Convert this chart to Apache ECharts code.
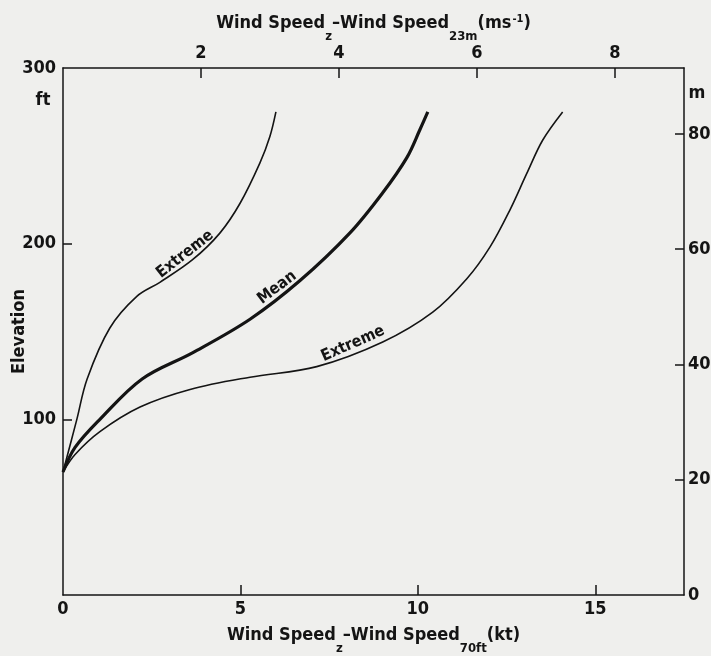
<!DOCTYPE html>
<html>
<head>
<meta charset="utf-8">
<script src="https://cdn.jsdelivr.net/npm/echarts@6/dist/echarts.min.js"></script>
<style>
html,body{margin:0;padding:0;background:#efefed;}
#c{width:711px;height:656px;}
</style>
</head>
<body>
<div id="c"></div>
<script>
// ---- data (x: kt, y: ft) ----
const extremeLeftX  = [0, 0.39, 0.68, 1.32, 2.08, 2.73, 3.66, 4.42, 4.99, 5.55, 5.83, 6.0];
const extremeLeftY  = [70, 100, 123, 152, 170, 178, 191, 206, 223, 246, 261, 275];
const meanX         = [0, 0.34, 1.04, 2.23, 3.66, 5.27, 6.68, 8.08, 9.01, 9.69, 10.06, 10.28];
const meanY         = [70, 84, 100, 123, 138, 157, 179, 206, 229, 249, 265, 275];
const extremeRightX = [0, 0.34, 1.04, 2.17, 3.58, 5.27, 7.15, 9.01, 10.42, 11.38, 12.03, 12.59, 13.07, 13.52, 14.08];
const extremeRightY = [70, 80, 93, 107, 117, 124, 130, 144, 161, 180, 198, 219, 240, 259, 275];

const bottomTickLabels = [0, 5, 10, 15];
const topTickLabels = [2, 4, 6, 8];
const leftTickLabels = [100, 200, 300];
const rightTickLabels = [0, 20, 40, 60, 80];

const curveLabels = [
  {text: 'Extreme', x: 3.44, y: 194, angle: 38},
  {text: 'Mean', x: 6.03, y: 175, angle: 37},
  {text: 'Extreme', x: 8.17, y: 143, angle: 24}
];

const KT_MAX = 17.5;
const FT_MAX = 300;
const MS_PER_KT = 0.514444;
const M_PER_FT = 0.3048;

const FONT = '"DejaVu Sans Condensed", "Liberation Sans Narrow", sans-serif';
const INK = '#141414';

function pairs(xs, ys) { return xs.map((x, i) => [x, ys[i]]); }

const base = {fontFamily: FONT, fontWeight: 'bold', color: INK};
const rich = {
  a: Object.assign({fontSize: 18, lineHeight: 22, verticalAlign: 'top'}, base),
  s: Object.assign({fontSize: 13, lineHeight: 13, padding: [16, 0, 0, 0], verticalAlign: 'top'}, base),
  p: Object.assign({fontSize: 11, lineHeight: 11, padding: [0, 0, 0, 1], verticalAlign: 'top'}, base)
};

const axisLineStyle = {color: INK, width: 1.5};
const tickFont = {fontSize: 18, fontFamily: FONT, fontWeight: 'bold', color: INK};

const chart = echarts.init(document.getElementById('c'), null, {renderer: 'canvas'});
const option = {
  backgroundColor: '#efefed',
  animation: false,
  grid: {left: 63, right: 27, top: 68, bottom: 61, containLabel: false, outerBoundsMode: 'none'},
  xAxis: [
    {
      type: 'value', position: 'bottom', min: 0, max: KT_MAX,
      name: '{a|Wind Speed}{s|z}{a|–Wind Speed}{s|70ft}{a|(kt)}',
      nameLocation: 'middle', nameGap: 31, nameMoveOverlap: false,
      nameTextStyle: {rich: rich},
      axisLine: {show: true, onZero: false, lineStyle: axisLineStyle},
      axisTick: {show: true, inside: true, length: 10, lineStyle: axisLineStyle, customValues: [5, 10, 15]},
      axisLabel: Object.assign({show: true, margin: 5, customValues: bottomTickLabels}, tickFont),
      splitLine: {show: false}
    },
    {
      type: 'value', position: 'top', min: 0, max: KT_MAX * MS_PER_KT,
      name: '{a|Wind Speed}{s|z}{a|–Wind Speed}{s|23m}{a|(ms}{p|-1}{a|)}',
      nameLocation: 'middle', nameGap: 32, nameMoveOverlap: false,
      nameTextStyle: {rich: rich},
      axisLine: {show: true, onZero: false, lineStyle: axisLineStyle},
      axisTick: {show: true, inside: true, length: 10, lineStyle: axisLineStyle, customValues: topTickLabels},
      axisLabel: Object.assign({show: true, margin: 6, customValues: topTickLabels}, tickFont),
      splitLine: {show: false}
    }
  ],
  yAxis: [
    {
      type: 'value', position: 'left', min: 0, max: FT_MAX,
      name: 'Elevation', nameLocation: 'middle', nameGap: 35, nameRotate: 90, nameMoveOverlap: false,
      nameTextStyle: {fontSize: 18, fontFamily: FONT, fontWeight: 'bold', color: INK},
      axisLine: {show: true, onZero: false, lineStyle: axisLineStyle},
      axisTick: {show: true, inside: true, length: 9, lineStyle: axisLineStyle, customValues: [100, 200]},
      axisLabel: Object.assign({show: true, margin: 7, customValues: leftTickLabels}, tickFont),
      splitLine: {show: false}
    },
    {
      type: 'value', position: 'right', min: 0, max: FT_MAX * M_PER_FT,
      axisLine: {show: true, onZero: false, lineStyle: axisLineStyle},
      axisTick: {show: true, inside: true, length: 9, lineStyle: axisLineStyle, customValues: [20, 40, 60, 80]},
      axisLabel: Object.assign({show: true, margin: 4, customValues: rightTickLabels}, tickFont),
      splitLine: {show: false}
    }
  ],
  series: [
    {type: 'line', name: 'Extreme (left)', xAxisIndex: 0, yAxisIndex: 0, data: pairs(extremeLeftX, extremeLeftY),
     smooth: 0.35, showSymbol: false, lineStyle: {color: INK, width: 1.6}},
    {type: 'line', name: 'Mean', xAxisIndex: 0, yAxisIndex: 0, data: pairs(meanX, meanY),
     smooth: 0.35, showSymbol: false, lineStyle: {color: INK, width: 3.2}},
    {type: 'line', name: 'Extreme (right)', xAxisIndex: 0, yAxisIndex: 0, data: pairs(extremeRightX, extremeRightY),
     smooth: 0.35, showSymbol: false, lineStyle: {color: INK, width: 1.6}}
  ]
};
chart.setOption(option);

// Unit labels and curve labels positioned through the axes
function px(x, y) { return chart.convertToPixel({xAxisIndex: 0, yAxisIndex: 0}, [x, y]); }
const g = [];
const topLeft = px(0, FT_MAX);
const topRight = px(KT_MAX, FT_MAX);
g.push({type: 'text', x: topLeft[0] - 20, y: topLeft[1] + 32,
  style: {text: 'ft', font: 'bold 18px ' + FONT, fill: INK, textAlign: 'center', textVerticalAlign: 'middle'}});
g.push({type: 'text', x: topRight[0] + 13, y: topRight[1] + 25,
  style: {text: 'm', font: 'bold 18px ' + FONT, fill: INK, textAlign: 'center', textVerticalAlign: 'middle'}});
curveLabels.forEach(l => {
  const p = px(l.x, l.y);
  g.push({type: 'text', x: p[0], y: p[1], rotation: l.angle * Math.PI / 180,
    style: {text: l.text, font: 'bold 16px ' + FONT, fill: INK, textAlign: 'center', textVerticalAlign: 'middle'}});
});
chart.setOption({graphic: g});
</script>
</body>
</html>
